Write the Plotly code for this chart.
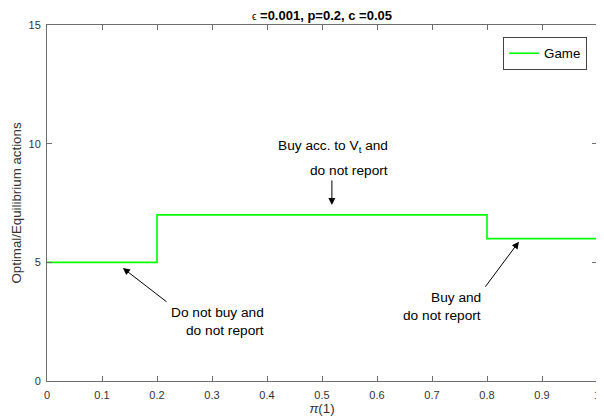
import plotly.graph_objects as go

# data
pi1 = [0.0, 0.2, 0.8, 1.0]
actions = [5, 7, 6, 6]
x_ticks = [0, 0.1, 0.2, 0.3, 0.4, 0.5, 0.6, 0.7, 0.8, 0.9, 1]
x_tick_labels = ["0", "0.1", "0.2", "0.3", "0.4", "0.5", "0.6", "0.7", "0.8", "0.9", "1"]
y_ticks = [0, 5, 10, 15]

AXL = "#6e6e6e"
TXT = "#333333"
FONT = "Liberation Sans, Arial, sans-serif"

fig = go.Figure()
fig.add_trace(go.Scatter(x=pi1, y=actions, mode="lines", line_shape="hv",
                         line=dict(color="#00ff00", width=1.6), name="Game"))

axis_common = dict(showgrid=False, zeroline=False, showline=True, mirror="ticks",
                   linecolor=AXL, linewidth=1, ticks="inside", ticklen=5, tickcolor=AXL,
                   tickfont=dict(family=FONT, size=11, color=TXT), automargin=False)

fig.update_xaxes(range=[0, 1], tickvals=x_ticks, ticktext=x_tick_labels, ticklabelstandoff=4,
                 title=dict(text="<i>π</i>(1)", font=dict(family=FONT, size=13.3, color=TXT), standoff=2),
                 **axis_common)
fig.update_yaxes(range=[0, 15], tickvals=y_ticks, ticklabelstandoff=3,
                 title=dict(text="Optimal/Equilibrium actions", font=dict(family=FONT, size=13.3, color=TXT), standoff=3),
                 **axis_common)

anns = []
# arrows: (tip_x, tip_y, tail_x, tail_y)
arrows = [(0.518, 7.42, 0.518, 8.51), (0.138, 4.76, 0.220, 3.29), (0.858, 5.87, 0.795, 3.91)]
for tx, ty, sx, sy in arrows:
    anns.append(dict(x=tx, y=ty, ax=sx, ay=sy, xref="x", yref="y", axref="x", ayref="y",
                     text="", showarrow=True, arrowhead=2, arrowsize=1.4, arrowwidth=1,
                     arrowcolor="black"))

# text lines: (x_right, y, text)
lines = [
    (0.6236, 9.86, "Buy acc. to V<sub>t</sub> and"),
    (0.6236, 8.85, "do not report"),
    (0.398, 2.87, "Do not buy and"),
    (0.398, 2.11, "do not report"),
    (0.793, 3.53, "Buy and"),
    (0.793, 2.75, "do not report"),
]
for x, y, t in lines:
    anns.append(dict(x=x, y=y, xref="x", yref="y", text=t, showarrow=False,
                     xanchor="right", yanchor="middle",
                     font=dict(family=FONT, size=13.7, color="black")))

fig.update_layout(
    width=604, height=416,
    margin=dict(l=39, r=15, t=17, b=43),
    plot_bgcolor="white", paper_bgcolor="white",
    title=dict(text="<span style='font-weight:normal;font-size:10px'>ϵ</span> =0.001, p=0.2, c =0.05",
               x=(39 + 275) / 604, xanchor="center", y=0.983, yanchor="middle",
               font=dict(family=FONT, size=13, color="black", weight="bold")),
    legend=dict(x=0.982, xanchor="right", y=0.966, yanchor="top",
                bordercolor="#444444", borderwidth=1, bgcolor="white",
                font=dict(family=FONT, size=13.3, color="black"),
                itemwidth=30),
    showlegend=True,
    annotations=anns,
)

fig.write_html("out.html")
